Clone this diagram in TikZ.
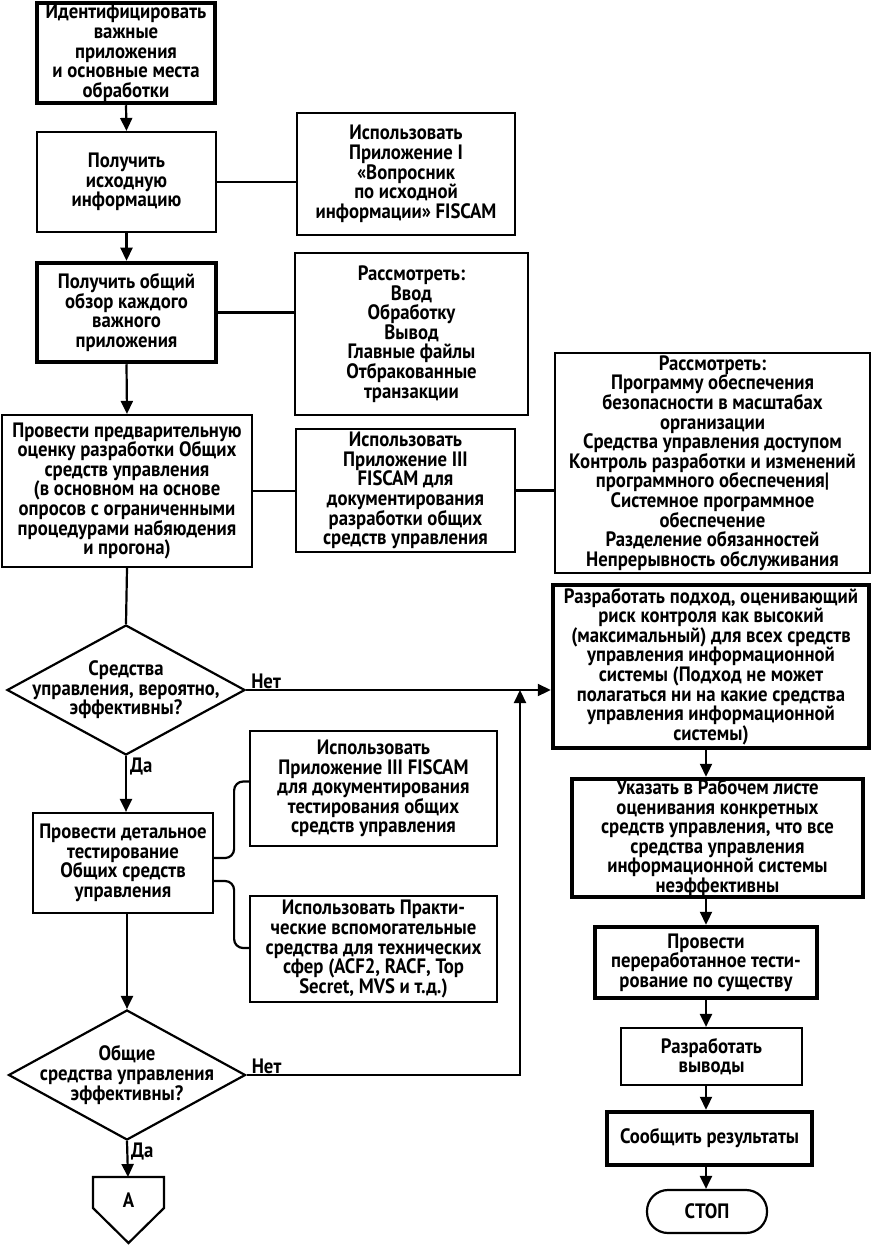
\documentclass[tikz,border=0pt]{standalone}
\usepackage{fontspec}
\setmainfont{PT Sans}[FakeStretch=0.9]
\usetikzlibrary{shapes.geometric,arrows.meta}
\begin{document}
\begin{tikzpicture}[x=1pt,y=-1pt,
  txt/.style={font=\bfseries\fontsize{20.8}{19.6}\selectfont},
  plainbox/.style={draw,line width=2.2pt,align=center,inner sep=0pt,txt},
  heavybox/.style={draw,line width=4.5pt,align=center,inner sep=0pt,txt},
  decision/.style={draw,line width=2.2pt,diamond,inner sep=0pt},
  conn/.style={line width=2.2pt},
  arr/.style={conn,-{Triangle[length=13pt,width=12pt]}},
  lbl/.style={txt,inner sep=1pt}
]
\useasboundingbox (0,0) rectangle (873,1246);
% left column
\node[heavybox,minimum width=178pt,minimum height=100pt] (b1) at (126,53)
  {Идентифицировать\\важные\\приложения\\и основные места\\обработки};
\node[plainbox,minimum width=179pt,minimum height=100pt] (b2) at (126.5,182)
  {Получить\\исходную\\информацию};
\node[plainbox,minimum width=218pt,minimum height=122pt] (b3) at (406,174)
  {Использовать\\Приложение I\\«Вопросник\\по исходной\\информации» FISCAM};
\node[heavybox,minimum width=179pt,minimum height=99pt] (b4) at (126.5,312.5)
  {Получить общий\\обзор каждого\\важного\\приложения};
\node[plainbox,minimum width=233pt,minimum height=162pt] (b5) at (411.5,334)
  {Рассмотреть:\\Ввод\\Обработку\\Вывод\\Главные файлы\\Отбракованные\\транзакции};
\node[plainbox,minimum width=250pt,minimum height=152pt] (b6) at (127,491)
  {Провести предварительную\\оценку разработки Общих\\средств управления\\(в основном на основе\\опросов с ограниченными\\процедурами набяюдения\\и прогона)};
\node[plainbox,minimum width=219pt,minimum height=123pt] (b7) at (405.5,490.5)
  {Использовать\\Приложение III\\FISCAM для\\документирования\\разработки общих\\средств управления};
\node[plainbox,minimum width=315pt,minimum height=220pt] (b8) at (712.5,463)
  {Рассмотреть:\\Программу обеспечения\\безопасности в масштабах\\организации\\Средства управления доступом\\Контроль разработки и изменений\\программного обеспечения|\\Системное программное\\обеспечение\\Разделение обязанностей\\Непрерывность обслуживания};
\node[decision,minimum width=238pt,minimum height=130pt] (d1) at (126,690) {};
\node[txt,align=center] (d1t) at (d1.center) {Средства\\управления, вероятно,\\эффективны?};
\node[heavybox,minimum width=316pt,minimum height=163pt] (b9) at (711,666.5)
  {Разработать подход, оценивающий\\риск контроля как высокий\\(максимальный) для всех средств\\управления информационной\\системы (Подход не может\\полагаться ни на какие средства\\управления информационной\\системы)};
\node[plainbox,minimum width=180pt,minimum height=100pt] (b10) at (123,863)
  {Провести детальное\\тестирование\\Общих средств\\управления};
\node[plainbox,minimum width=247pt,minimum height=115pt] (b11) at (373.5,788.5)
  {Использовать\\Приложение III FISCAM\\для документирования\\тестирования общих\\средств управления};
\node[plainbox,minimum width=247pt,minimum height=106pt] (b12) at (373.5,949)
  {Использовать Практи-\\ческие вспомогательные\\средства для технических\\сфер (ACF2, RACF, Top\\Secret, MVS и т.д.)};
\node[decision,minimum width=237pt,minimum height=130pt] (d2) at (127,1075) {};
\node[txt,align=center] (d2t) at (d2.center) {Общие\\средства управления\\эффективны?};
% right column
\node[heavybox,minimum width=291pt,minimum height=118pt] (b13) at (717.5,838)
  {Указать в Рабочем листе\\оценивания конкретных\\средств управления, что все\\средства управления\\информационной системы\\неэффективны};
\node[heavybox,minimum width=222pt,minimum height=71pt] (b14) at (706,962.5)
  {Провести\\переработанное тести-\\рование по существу};
\node[plainbox,minimum width=181pt,minimum height=57pt] (b15) at (711.5,1056.5)
  {Разработать\\выводы};
\node[heavybox,minimum width=205pt,minimum height=53pt] (b16) at (709.5,1138.5)
  {Сообщить результаты};
\node[plainbox,rounded corners=21pt,minimum width=120pt,minimum height=43pt] (stop) at (707,1211.5)
  {СТОП};
% off-page connector
\draw[conn] (93,1177) -- (164,1177) -- (164,1208) -- (128.5,1243) -- (93,1208) -- cycle;
\node[txt] (A) at (128.5,1200) {A};
\coordinate (Atop) at (128,1177);
\coordinate (rc) at (706,0);
\coordinate (merge) at (520,690);
% connectors
\draw[arr] (b1.south) -- (b2.north);
\draw[conn] (b2.east) -- (b2.east -| b3.west);
\draw[arr] (b2.south) -- (b4.north);
\draw[conn] (b4.east) -- (b4.east -| b5.west);
\draw[arr] (b4.south) -- (b6.north);
\draw[conn] (b6.east) -- (b6.east -| b7.west);
\draw[conn] (b7.east) -- (b7.east -| b8.west);
\draw[conn] (b6.south) -- (d1.north);
\draw[arr] (d1.east) -- (d1.east -| b9.west);
\node[lbl,anchor=south west] at ([xshift=4pt]d1.east) {Нет};
\draw[arr] (d1.south) -- (d1.south |- b10.north);
\node[lbl,anchor=north west] at ([xshift=3pt,yshift=-1pt]d1.south) {Да};
\draw[conn,rounded corners=9pt] ([yshift=5pt]b10.east) -- ++(20,0) |- ([yshift=7pt]b11.west);
\draw[conn,rounded corners=9pt] ([yshift=-18pt]b10.east) -- ++(20,0) |- ([yshift=1pt]b12.west);
\draw[arr] (d2.north |- b10.south) -- (d2.north);
\draw[arr] (d2.east) -| (merge);
\node[lbl,anchor=south west] at ([xshift=4pt]d2.east) {Нет};
\draw[arr] (d2.south) -- (Atop);
\node[lbl,anchor=north west] at ([xshift=3pt,yshift=-1pt]d2.south) {Да};
\draw[arr] (b9.south -| rc) -- (b13.north -| rc);
\draw[arr] (b13.south -| rc) -- (b14.north -| rc);
\draw[arr] (b14.south -| rc) -- (b15.north -| rc);
\draw[arr] (b15.south -| rc) -- (b16.north -| rc);
\draw[arr] (b16.south -| rc) -- (stop.north -| rc);
\end{tikzpicture}
\end{document}
